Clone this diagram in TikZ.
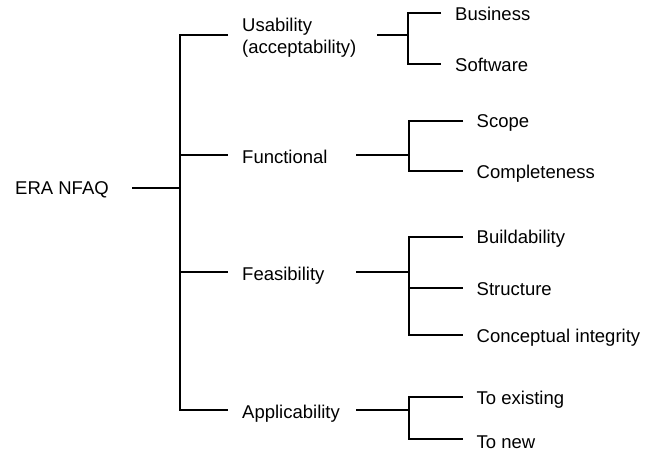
\documentclass[tikz,border=0pt]{standalone}
\usepackage{fontspec}
\setmainfont{Liberation Sans}
\begin{document}
\begin{tikzpicture}[x=1pt,y=-1pt,
  lbl/.style={anchor=base west,inner sep=0pt,font=\fontsize{18.5}{22}\selectfont},
  conn/.style={draw=black,line width=1.3pt,line cap=butt}]
\useasboundingbox (0,0) rectangle (654,451);
% labels
\node[lbl] (root) at (15,194) {ERA NFAQ};
\node[lbl] (usab) at (242,31.5) {Usability};
\node[lbl] (usab2) at (242,53) {(acceptability)};
\node[lbl] (func) at (242,163) {Functional};
\node[lbl] (feas) at (242,280) {Feasibility};
\node[lbl] (appl) at (242,418) {Applicability};
\node[lbl] (bus) at (455,20.7) {Business};
\node[lbl] (soft) at (455,71.5) {Software};
\node[lbl] (scope) at (476.5,127) {Scope};
\node[lbl] (compl) at (476.5,178.5) {Completeness};
\node[lbl] (build) at (476.5,243) {Buildability};
\node[lbl] (struct) at (476.5,295) {Structure};
\node[lbl] (conc) at (476.5,342.5) {Conceptual integrity};
\node[lbl] (exist) at (476.5,404) {To existing};
\node[lbl] (new) at (476.5,448) {To new};
% coordinates
\coordinate (r0) at (132,188);
\coordinate (t0) at (180,188);
\coordinate (tU) at (180,35);
\coordinate (tF) at (180,155);
\coordinate (tE) at (180,272);
\coordinate (tA) at (180,410);
\coordinate (eU) at (228,35);
\coordinate (eF) at (228,155);
\coordinate (eE) at (228,272);
\coordinate (eA) at (228,410);
% usability sub
\coordinate (sU) at (377,35);
\coordinate (jU) at (408,35);
\coordinate (jU1) at (408,13);
\coordinate (jU2) at (408,64);
\coordinate (kU1) at (441,13);
\coordinate (kU2) at (441,64);
% functional sub
\coordinate (sF) at (356,155);
\coordinate (jF) at (409,155);
\coordinate (jF1) at (409,121);
\coordinate (jF2) at (409,171);
\coordinate (kF1) at (463,121);
\coordinate (kF2) at (463,171);
% feasibility sub
\coordinate (sE) at (356,272);
\coordinate (jE) at (409,272);
\coordinate (jE1) at (409,237);
\coordinate (jE2) at (409,288);
\coordinate (jE3) at (409,335);
\coordinate (kE1) at (463,237);
\coordinate (kE2) at (463,288);
\coordinate (kE3) at (463,335);
% applicability sub
\coordinate (sA) at (356,410);
\coordinate (jA) at (409,410);
\coordinate (jA1) at (409,397);
\coordinate (jA2) at (409,439);
\coordinate (kA1) at (463,397);
\coordinate (kA2) at (463,439);
% connectors
\draw[conn] (r0) -- (t0);
\draw[conn] (eU) -- (tU) -- (tA) -- (eA);
\draw[conn] (tF) -- (eF);
\draw[conn] (tE) -- (eE);
\draw[conn] (sU) -- (jU);
\draw[conn] (kU1) -- (jU1) -- (jU2) -- (kU2);
\draw[conn] (sF) -- (jF);
\draw[conn] (kF1) -- (jF1) -- (jF2) -- (kF2);
\draw[conn] (sE) -- (jE);
\draw[conn] (kE1) -- (jE1) -- (jE3) -- (kE3);
\draw[conn] (jE2) -- (kE2);
\draw[conn] (sA) -- (jA);
\draw[conn] (kA1) -- (jA1) -- (jA2) -- (kA2);
\end{tikzpicture}
\end{document}
